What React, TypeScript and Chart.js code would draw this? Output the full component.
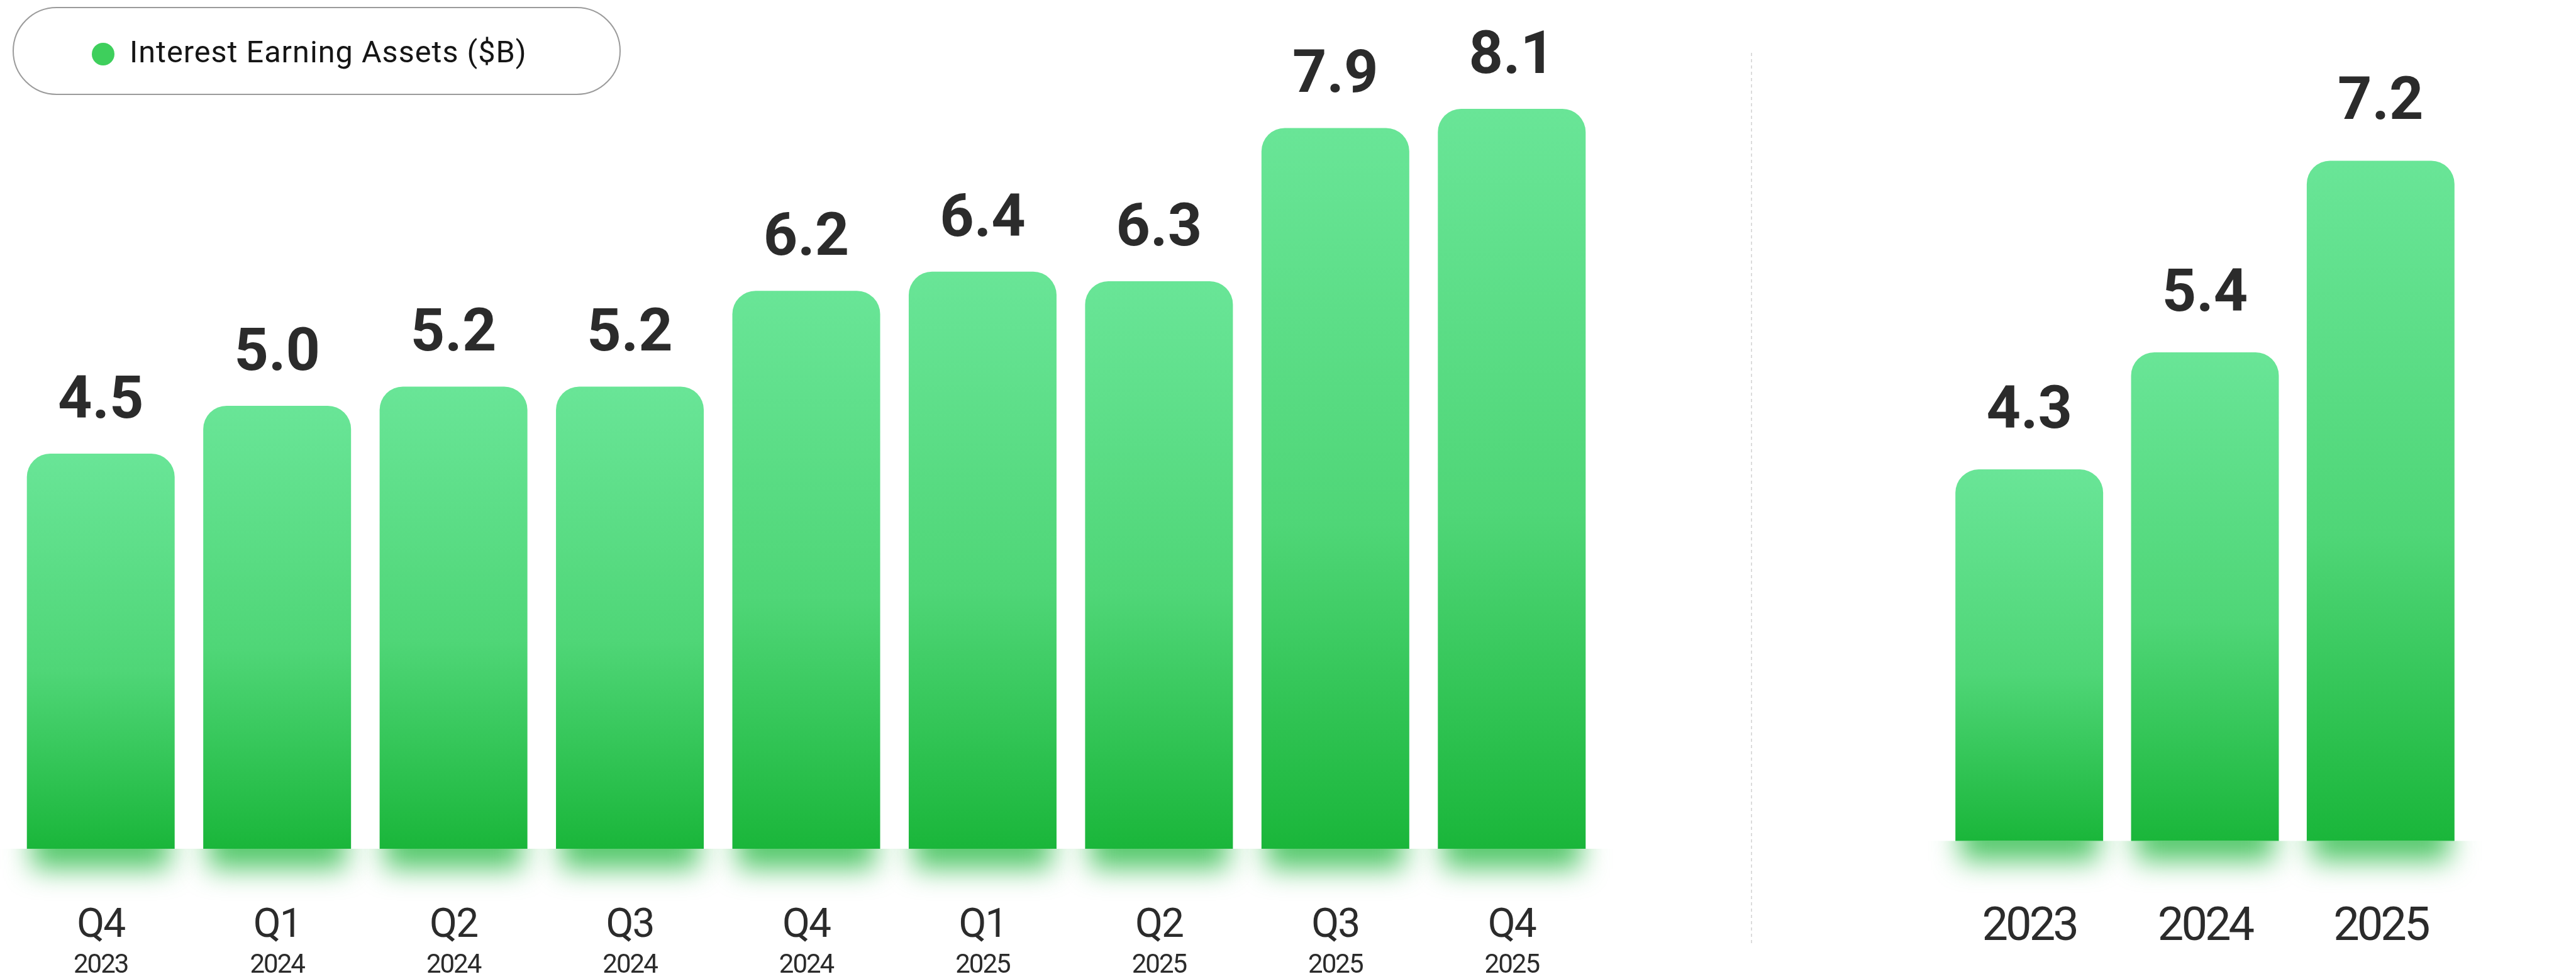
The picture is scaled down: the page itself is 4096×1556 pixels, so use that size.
import React, { useEffect, useRef } from "react";
import { Chart, registerables } from "chart.js";

Chart.register(...registerables);

// ---------- data ----------
const quarterLabels = ["Q4", "Q1", "Q2", "Q3", "Q4", "Q1", "Q2", "Q3", "Q4"];
const quarterYears = ["2023", "2024", "2024", "2024", "2024", "2025", "2025", "2025", "2025"];
const quarterValues = [4.5, 5.0, 5.2, 5.2, 6.2, 6.4, 6.3, 7.9, 8.1];
const annualLabels = ["2023", "2024", "2025"];
const annualValues = [4.3, 5.4, 7.2];
const legendLabel = "Interest Earning Assets ($B)";

// ---------- layout ----------
const W = 4096;
const H = 1556;
const LEFT_W = 2700;
const RIGHT_X = 2700;
const RIGHT_W = W - RIGHT_X;
const TEXT = "#2b2b2b";
const GREEN_TOP = "#69e597";
const GREEN_BOTTOM = "#1ab63a";

function gradientFill(ctx: any) {
  const chart = ctx.chart;
  const area = chart.chartArea;
  if (!area || !ctx.parsed || !chart.scales.y) return GREEN_BOTTOM;
  const top = chart.scales.y.getPixelForValue(ctx.parsed.y);
  const g = chart.ctx.createLinearGradient(0, top, 0, area.bottom);
  g.addColorStop(0, GREEN_TOP);
  g.addColorStop(0.55, "#4fd677");
  g.addColorStop(1, GREEN_BOTTOM);
  return g;
}

const glowPlugin = {
  id: "glow",
  beforeDatasetsDraw(chart: any) {
    const ctx = chart.ctx;
    const meta = chart.getDatasetMeta(0);
    const base = chart.chartArea.bottom;
    meta.data.forEach((bar: any) => {
      const w = bar.width;
      ctx.save();
      ctx.beginPath();
      ctx.rect(bar.x - w, base, w * 2, 140);
      ctx.clip();
      ctx.filter = "blur(22px)";
      ctx.fillStyle = "rgba(27,181,58,0.75)";
      ctx.fillRect(bar.x - w / 2 + 8, base - 40, w - 16, 72);
      ctx.restore();
    });
  },
};

function valueLabelPlugin(gap: number) {
  return {
    id: "valueLabels",
    afterDatasetsDraw(chart: any) {
      const ctx = chart.ctx;
      const meta = chart.getDatasetMeta(0);
      const values = chart.data.datasets[0].data;
      ctx.save();
      ctx.font = "bold 95px Roboto";
      ctx.fillStyle = TEXT;
      ctx.textAlign = "center";
      ctx.textBaseline = "alphabetic";
      meta.data.forEach((bar: any, i: number) => {
        ctx.fillText(Number(values[i]).toFixed(1), bar.x, bar.y - gap);
      });
      ctx.restore();
    },
  };
}

function quarterAxisPlugin() {
  return {
    id: "quarterAxis",
    afterDraw(chart: any) {
      const ctx = chart.ctx;
      const xs = chart.scales.x;
      ctx.save();
      ctx.fillStyle = TEXT;
      ctx.textAlign = "center";
      ctx.textBaseline = "alphabetic";
      quarterLabels.forEach((q, i) => {
        const x = xs.getPixelForValue(i);
        ctx.font = "400 64px Roboto";
        (ctx as any).letterSpacing = "-2px";
        ctx.fillText(q, x, 1489);
        ctx.font = "400 42px Roboto";
        (ctx as any).letterSpacing = "-2px";
        ctx.fillText(quarterYears[i], x, 1546);
      });
      ctx.restore();
    },
  };
}

function annualAxisPlugin() {
  return {
    id: "annualAxis",
    afterDraw(chart: any) {
      const ctx = chart.ctx;
      const xs = chart.scales.x;
      ctx.save();
      ctx.fillStyle = TEXT;
      ctx.textAlign = "center";
      ctx.textBaseline = "alphabetic";
      ctx.font = "400 74px Roboto";
      (ctx as any).letterSpacing = "-4px";
      annualLabels.forEach((y, i) => {
        ctx.fillText(y, xs.getPixelForValue(i), 1494);
      });
      ctx.restore();
    },
  };
}

const separatorPlugin = {
  id: "separator",
  afterDraw(chart: any) {
    const ctx = chart.ctx;
    ctx.save();
    ctx.strokeStyle = "#dcdcdc";
    ctx.lineWidth = 2;
    ctx.setLineDash([5, 5]);
    ctx.beginPath();
    ctx.moveTo(85, 84);
    ctx.lineTo(85, 1502);
    ctx.stroke();
    ctx.restore();
  },
};

function makeChart(
  canvas: HTMLCanvasElement,
  labels: string[],
  values: number[],
  yMin: number,
  yMax: number,
  padding: any,
  barPct: number,
  plugins: any[]
) {
  return new Chart(canvas, {
    type: "bar",
    data: {
      labels,
      datasets: [
        {
          data: values,
          backgroundColor: gradientFill as any,
          borderWidth: 0,
          borderRadius: { topLeft: 37, topRight: 37, bottomLeft: 0, bottomRight: 0 },
          borderSkipped: "bottom",
          barPercentage: barPct,
          categoryPercentage: 1,
        },
      ],
    },
    options: {
      responsive: false,
      maintainAspectRatio: false,
      devicePixelRatio: 1,
      animation: false,
      layout: { padding },
      plugins: {
        legend: { display: false },
        tooltip: { enabled: false },
        title: { display: false },
      },
      scales: {
        x: { display: false, offset: true, grid: { display: false } },
        y: { display: false, min: yMin, max: yMax, grid: { display: false } },
      },
    },
    plugins,
  } as any);
}

export default function App() {
  const leftRef = useRef<HTMLCanvasElement | null>(null);
  const rightRef = useRef<HTMLCanvasElement | null>(null);

  useEffect(() => {
    let cancelled = false;
    let left: Chart | null = null;
    let right: Chart | null = null;
    const build = () => {
      if (cancelled || !leftRef.current || !rightRef.current) return;
      left = makeChart(
        leftRef.current,
        quarterLabels,
        quarterValues,
        0.375,
        9,
        { left: 20, right: LEFT_W - 2544, top: 36, bottom: H - 1349 },
        0.838,
        [glowPlugin, valueLabelPlugin(57), quarterAxisPlugin()]
      );
      right = makeChart(
        rightRef.current,
        annualLabels,
        annualValues,
        0.81,
        8.5,
        { left: 3087 - RIGHT_X, right: RIGHT_W - (3925 - RIGHT_X), top: 35.5, bottom: H - 1336.6 },
        0.841,
        [glowPlugin, valueLabelPlugin(66), annualAxisPlugin(), separatorPlugin]
      );
    };
    const fontsAny: any = (document as any).fonts;
    if (fontsAny && fontsAny.load) {
      Promise.all([
        fontsAny.load("bold 95px Roboto"),
        fontsAny.load("400 64px Roboto"),
      ])
        .catch(() => null)
        .then(build);
    } else {
      build();
    }
    return () => {
      cancelled = true;
      if (left) left.destroy();
      if (right) right.destroy();
    };
  }, []);

  return (
    <div
      style={{
        position: "fixed",
        left: 0,
        top: 0,
        width: W,
        height: H,
        background: "#ffffff",
        overflow: "hidden",
        fontFamily: "Roboto, sans-serif",
      }}
    >
      <canvas
        ref={leftRef}
        width={LEFT_W}
        height={H}
        style={{ position: "absolute", left: 0, top: 0, width: LEFT_W, height: H }}
      />
      <canvas
        ref={rightRef}
        width={RIGHT_W}
        height={H}
        style={{ position: "absolute", left: RIGHT_X, top: 0, width: RIGHT_W, height: H }}
      />
      <div
        style={{
          position: "absolute",
          left: 20,
          top: 11,
          width: 967,
          height: 140,
          boxSizing: "border-box",
          border: "2px solid #9b9b9b",
          borderRadius: 70,
          background: "#ffffff",
        }}
      />
      <div
        style={{
          position: "absolute",
          left: 146,
          top: 68,
          width: 36,
          height: 36,
          borderRadius: 18,
          background: "#3ecf5c",
        }}
      />
      <div
        style={{
          position: "absolute",
          left: 206,
          top: 59,
          fontSize: 48.6,
          lineHeight: 1,
          color: "#151515",
          whiteSpace: "nowrap",
          letterSpacing: 1,
        }}
      >
        {legendLabel}
      </div>
    </div>
  );
}
